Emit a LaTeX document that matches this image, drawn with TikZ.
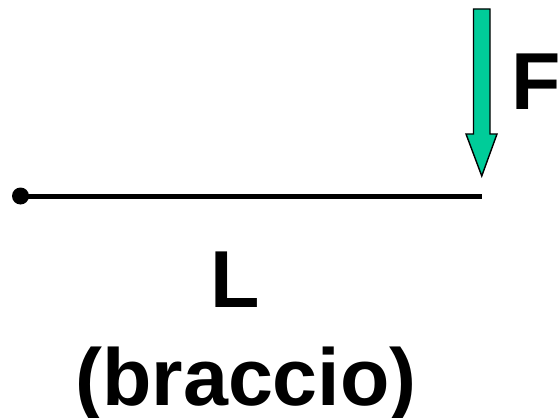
\documentclass[tikz,border=0pt]{standalone}
\usepackage{fontspec}
\setmainfont{Liberation Sans}
\usetikzlibrary{arrows.meta}
\definecolor{forcegreen}{RGB}{0,204,153}
\tikzset{
  lbl/.style={font=\fontsize{46}{55}\selectfont\bfseries, inner sep=0pt, anchor=base},
  beam/.style={line width=0.1cm},
  pivot/.style={circle, fill=black, minimum size=0.34cm, inner sep=0pt},
  forcearrow/.style={draw=black, line width=0.8pt, fill=forcegreen, line join=miter},
}

\begin{document}
\begin{tikzpicture}
  \useasboundingbox (0,0) rectangle (11.18,8.34);

  \node[pivot] (O) at (0.41,4.42) {};
  \coordinate (E) at (9.64,4.42);
  \draw[beam] (O.center) -- (E);

  % force arrow
  \draw[forcearrow] (9.47,8.16) -- (9.80,8.16) -- (9.80,5.66) -- (9.94,5.66)
    -- (9.635,4.82) -- (9.32,5.66) -- (9.47,5.66) -- cycle;

  \node[lbl] (F) at (10.72,6.14) {F};
  \node[lbl] (L) at (4.71,2.20) {L};
  \node[lbl] (braccio) at (4.92,0.24) {(braccio)};
\end{tikzpicture}
\end{document}
